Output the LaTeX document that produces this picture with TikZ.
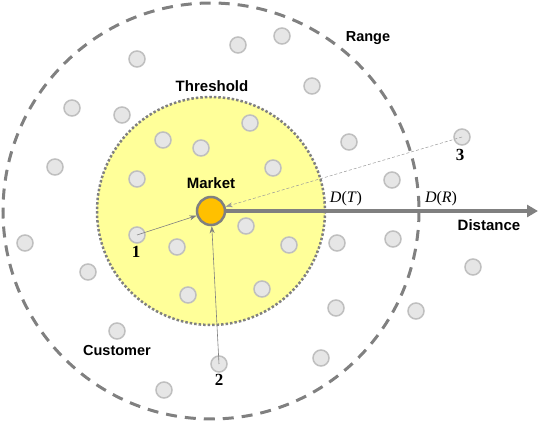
\documentclass[tikz,border=0pt]{standalone}
\usepackage{fontspec}
\setmainfont{Liberation Serif}
\setsansfont{Liberation Sans}
\usepackage{tikz}
\usetikzlibrary{arrows.meta}
\definecolor{custfill}{HTML}{E6E6E6}
\definecolor{custedge}{HTML}{BFBFBF}
\definecolor{linegray}{HTML}{808080}
\definecolor{threshfill}{HTML}{FFFF99}
\definecolor{marketfill}{HTML}{FFC000}
\tikzset{
  customer/.style={circle, draw=custedge, fill=custfill, line width=1.5pt,
    minimum size=16pt, inner sep=0pt},
  market dot/.style={circle, draw=linegray, fill=marketfill, line width=2.5pt,
    minimum size=28pt, inner sep=0pt},
  tag/.style={font=\sffamily\bfseries\fontsize{15}{17}\selectfont},
  small tag/.style={font=\sffamily\bfseries\fontsize{14.5}{16}\selectfont},
  num/.style={font=\bfseries\fontsize{17}{19}\selectfont},
  dist/.style={font=\fontsize{16}{18}\selectfont},
  link/.style={draw=linegray, line width=.6pt, -{Stealth[length=7pt,width=5pt]}},
}

\begin{document}
\begin{tikzpicture}[x=1pt,y=-1pt]
  \useasboundingbox (0,0) rectangle (550,422);
  \fill[threshfill] (211,211) circle [radius=114];
  \draw[linegray, line width=2.5pt, dash pattern=on 2.5pt off 2pt] (211,211) circle [radius=114];
  \draw[linegray, line width=3pt, dash pattern=on 11pt off 8pt] (211,211) circle [radius=208];
  \foreach \x/\y [count=\i] in {282/36, 238/45, 137/59, 312/86, 72/108, 122/115,
      250/123, 163/140, 201/148, 349/142, 55/167, 273/168, 137/179, 392/180,
      246/226, 25/243, 177/247, 289/245, 337/243, 393/239, 473/267, 88/272,
      188/295, 262/289, 336/308, 416/311, 117/331, 321/358, 164/390}
    \node[customer] (c\i) at (\x,\y) {};
  \node[customer] (p1) at (137,235) {};
  \node[customer] (p2) at (219,364) {};
  \node[customer] (p3) at (462,137) {};
  \node[market dot] (mkt) at (211,211) {};
  \coordinate (axisend) at (538,211);
  \draw[linegray, line width=4pt, -{Triangle[length=11pt,width=12pt]}] (mkt.east) -- (axisend);
  \draw[link] (p1.center) -- (mkt);
  \draw[link] (p2.center) -- (mkt);
  \draw[link, draw=linegray!80, line width=.5pt, dash pattern=on 3pt off 2pt] (p3.center) -- (mkt);
  \node[tag] (mktlabel) at (211,183) {Market};
  \node[tag] (threshlabel) at (212,86) {Threshold};
  \node[small tag] (rangelabel) at (368,38) {Range};
  \node[small tag] (custlabel) at (117,351) {Customer};
  \node[tag] (distlabel) at (489,225) {Distance};
  \node[dist] (dt) at (346,199) {\textit{D}(\textit{T})};
  \node[dist] (dr) at (441,199) {\textit{D}(\textit{R})};
  \node[num] (n1) at (136,252) {1};
  \node[num] (n2) at (219,380) {2};
  \node[num] (n3) at (460,155) {3};
\end{tikzpicture}
\end{document}
